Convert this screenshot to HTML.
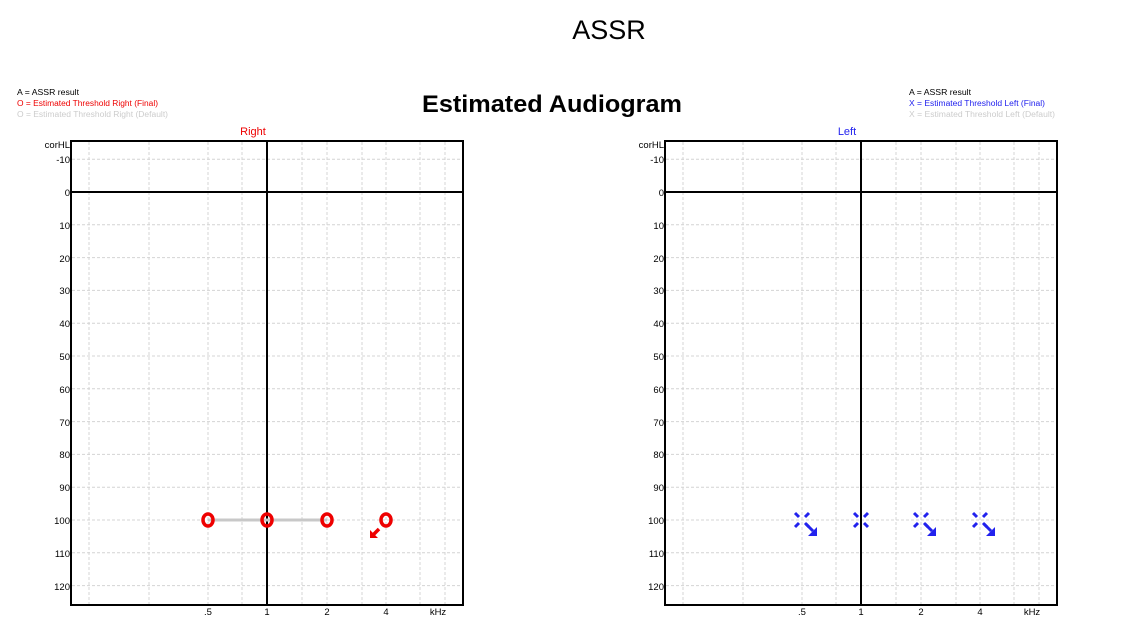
<!DOCTYPE html>
<html><head><meta charset="utf-8"><style>
body{margin:0;background:#fff;width:1121px;height:630px;overflow:hidden}
svg{display:block}
text{font-family:"Liberation Sans",Arial,sans-serif}
</style></head><body>
<svg id="s" width="1121" height="630" xmlns="http://www.w3.org/2000/svg">
<text x="609" y="39" font-size="27" text-anchor="middle" fill="#000">ASSR</text>
<text x="552" y="112" font-size="24" font-weight="bold" text-anchor="middle" textLength="260" lengthAdjust="spacingAndGlyphs" fill="#000">Estimated Audiogram</text>
<g font-size="8">
<text x="17" y="95" fill="#000" textLength="62" lengthAdjust="spacingAndGlyphs">A = ASSR result</text>
<text x="17" y="106" fill="#e00" textLength="141" lengthAdjust="spacingAndGlyphs">O = Estimated Threshold Right (Final)</text>
<text x="17" y="117" fill="#ccc" textLength="151" lengthAdjust="spacingAndGlyphs">O = Estimated Threshold Right (Default)</text>
<text x="909" y="95" fill="#000" textLength="62" lengthAdjust="spacingAndGlyphs">A = ASSR result</text>
<text x="909" y="106" fill="#22e" textLength="136" lengthAdjust="spacingAndGlyphs">X = Estimated Threshold Left (Final)</text>
<text x="909" y="117" fill="#ccc" textLength="146" lengthAdjust="spacingAndGlyphs">X = Estimated Threshold Left (Default)</text>
</g>
<text x="253" y="135" font-size="11" text-anchor="middle" fill="#e00">Right</text>
<text x="847" y="135" font-size="11" text-anchor="middle" fill="#22e">Left</text>
<g id="g0"></g><g id="g1" transform="translate(594,0)"></g>
<g font-size="9.5" fill="#000" text-anchor="end">
<text x="70" y="148">corHL</text><text x="664" y="148">corHL</text>
<text x="70" y="163">-10</text><text x="70" y="196">0</text><text x="70" y="229">10</text><text x="70" y="262">20</text><text x="70" y="294">30</text><text x="70" y="327">40</text><text x="70" y="360">50</text><text x="70" y="393">60</text><text x="70" y="426">70</text><text x="70" y="458">80</text><text x="70" y="491">90</text><text x="70" y="524">100</text><text x="70" y="557">110</text><text x="70" y="590">120</text>
<text x="664" y="163">-10</text><text x="664" y="196">0</text><text x="664" y="229">10</text><text x="664" y="262">20</text><text x="664" y="294">30</text><text x="664" y="327">40</text><text x="664" y="360">50</text><text x="664" y="393">60</text><text x="664" y="426">70</text><text x="664" y="458">80</text><text x="664" y="491">90</text><text x="664" y="524">100</text><text x="664" y="557">110</text><text x="664" y="590">120</text>
</g>
<g font-size="9.5" fill="#000" text-anchor="middle">
<text x="208" y="615">.5</text><text x="267" y="615">1</text><text x="327" y="615">2</text><text x="386" y="615">4</text><text x="438" y="615">kHz</text>
<text x="802" y="615">.5</text><text x="861" y="615">1</text><text x="921" y="615">2</text><text x="980" y="615">4</text><text x="1032" y="615">kHz</text>
</g>
<line x1="208" y1="520" x2="327" y2="520" stroke="#c8c8c8" stroke-width="3"/>
<g fill="none" stroke="#e00" stroke-width="3.5">
<ellipse cx="208" cy="520" rx="5" ry="6"/><ellipse cx="267" cy="520" rx="5" ry="6"/><ellipse cx="327" cy="520" rx="5" ry="6"/><ellipse cx="386" cy="520" rx="5" ry="6"/>
<line x1="379" y1="529" x2="373" y2="535"/>
</g>
<polygon points="370,538 370,530 378,538" fill="#e00"/>
<g stroke="#22e" stroke-width="3" fill="none" id="xs"></g>
</svg>
<script>
var ns="http://www.w3.org/2000/svg";
function el(p,t,a){var e=document.createElementNS(ns,t);for(var k in a)e.setAttribute(k,a[k]);p.appendChild(e);return e;}
for(var i=0;i<2;i++){var g=document.getElementById('g'+i);
[89,149,208,242,302,327,362,386,420,445].forEach(function(x){el(g,'line',{x1:x,y1:142,x2:x,y2:604,stroke:'#d4d4d4','stroke-dasharray':'3,2'});});
for(var d=-10;d<=120;d+=10){var y=192+d*3.28;if(d!=0)el(g,'line',{x1:72,y1:y,x2:462,y2:y,stroke:'#d4d4d4','stroke-dasharray':'3,2'});}
el(g,'line',{x1:71,y1:192,x2:463,y2:192,stroke:'#000','stroke-width':2});
el(g,'line',{x1:267,y1:141,x2:267,y2:605,stroke:'#000','stroke-width':2});
el(g,'rect',{x:71,y:141,width:392,height:464,fill:'none',stroke:'#000','stroke-width':2});}
var xs=document.getElementById('xs');
[802,861,921,980].forEach(function(x,j){var y=520;
el(xs,'line',{x1:x-7,y1:y-7,x2:x-3,y2:y-3});el(xs,'line',{x1:x+7,y1:y-7,x2:x+3,y2:y-3});
el(xs,'line',{x1:x-7,y1:y+7,x2:x-3,y2:y+3});el(xs,'line',{x1:x+7,y1:y+7,x2:x+3,y2:y+3});
if(j!=1){el(xs,'line',{x1:x+4,y1:y+4,x2:x+11,y2:y+11});el(document.getElementById('s'),'polygon',{points:(x+15)+','+(y+16)+' '+(x+15)+','+(y+7)+' '+(x+6)+','+(y+16),fill:'#22e'});}
});
</script>
</body></html>
